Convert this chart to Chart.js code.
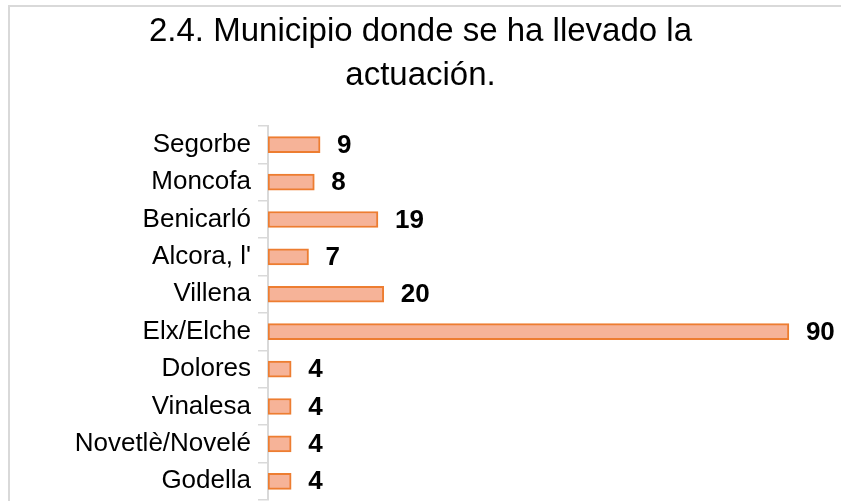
<!DOCTYPE html>
<html>
<head>
<meta charset="utf-8">
<script src="https://cdn.jsdelivr.net/npm/chart.js@4.4.1/dist/chart.umd.min.js"></script>
<style>
  body { margin: 0; background: #fff; }
  canvas { display: block; }
</style>
</head>
<body>
<canvas id="chart" width="841" height="501"></canvas>
<script>
// municipios, de arriba a abajo
const municipios = ['Segorbe', 'Moncofa', 'Benicarló', "Alcora, l'", 'Villena', 'Elx/Elche', 'Dolores', 'Vinalesa', 'Novetlè/Novelé', 'Godella'];
const casos = [9, 8, 19, 7, 20, 90, 4, 4, 4, 4];
const titulo = ['2.4. Municipio donde se ha llevado la', 'actuación.'];

const FONT = '"Liberation Sans", Arial, sans-serif';

// marco gris del gráfico
const marco = {
    id: 'marco',
    beforeDraw(chart) {
        const ctx = chart.ctx;
        ctx.save();
        ctx.fillStyle = '#fff';
        ctx.fillRect(0, 0, chart.width, chart.height);
        ctx.strokeStyle = '#d9d9d9';
        ctx.lineWidth = 2;
        ctx.strokeRect(9, 6, 1000, 1000);
        ctx.restore();
    }
};

// etiquetas de valor al final de cada barra
const valores = {
    id: 'valores',
    afterDatasetsDraw(chart) {
        const ctx = chart.ctx;
        const meta = chart.getDatasetMeta(0);
        ctx.save();
        ctx.font = 'bold 26px ' + FONT;
        ctx.fillStyle = '#000';
        ctx.textAlign = 'left';
        ctx.textBaseline = 'middle';
        meta.data.forEach((bar, i) => {
            ctx.fillText(casos[i], bar.x + 17, bar.y + 1);
        });
        ctx.restore();
    }
};

const ctx = document.getElementById('chart').getContext('2d');
new Chart(ctx, {
    type: 'bar',
    data: {
        labels: municipios,
        datasets: [{
            data: casos,
            backgroundColor: '#f6b398',
            borderColor: '#ed7d31',
            borderWidth: 2,
            borderSkipped: false,
            barThickness: 16
        }]
    },
    options: {
        indexAxis: 'y',
        responsive: false,
        animation: false,
        devicePixelRatio: 1,
        layout: { padding: { left: 0, right: 0, top: 0, bottom: 1 } },
        plugins: {
            legend: { display: false },
            tooltip: { enabled: false },
            title: {
                display: true,
                text: titulo,
                color: '#000',
                font: { family: FONT, size: 33, weight: 'normal', lineHeight: 1.333 },
                padding: { top: 10, bottom: 28 }
            }
        },
        scales: {
            x: {
                display: false,
                min: 0,
                max: 99
            },
            y: {
                afterFit(axis) {
                    axis.width = 268;
                    axis.paddingTop = 0;
                    axis.paddingBottom = 0;
                },
                grid: {
                    drawOnChartArea: false,
                    color: '#d9d9d9',
                    lineWidth: 1.5,
                    tickLength: 10
                },
                border: { color: '#d9d9d9', width: 2 },
                ticks: {
                    color: '#000',
                    padding: 7,
                    font: { family: FONT, size: 26 }
                }
            }
        }
    },
    plugins: [marco, valores]
});
</script>
</body>
</html>
